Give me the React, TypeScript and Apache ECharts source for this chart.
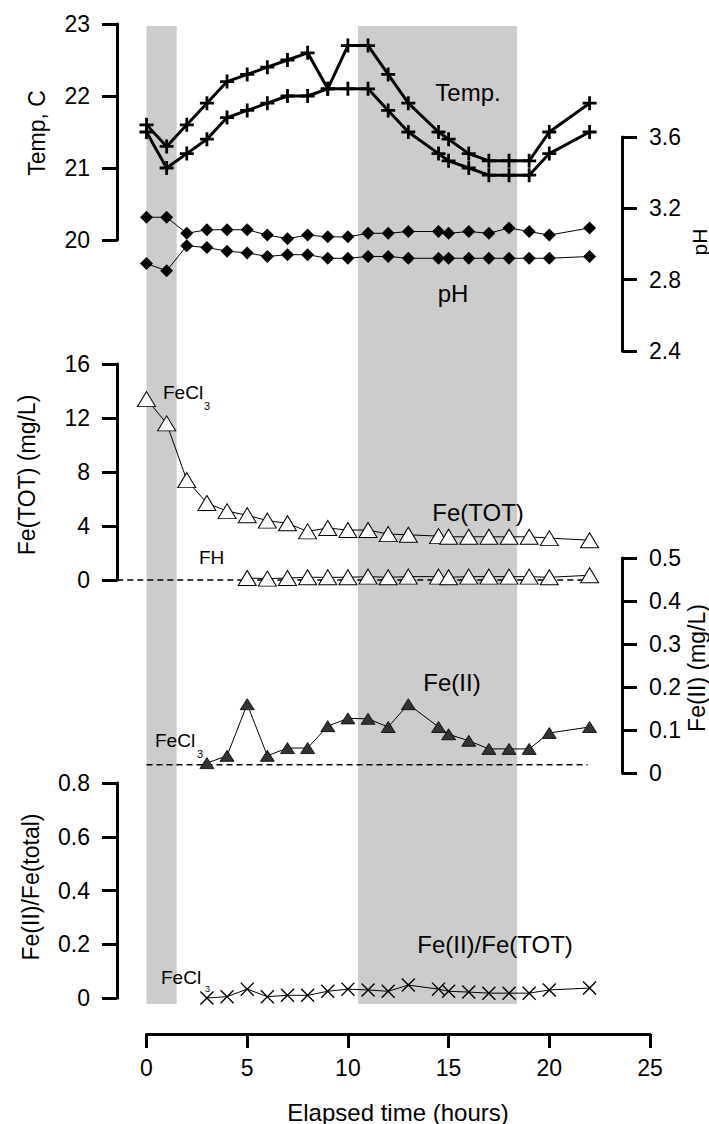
import React, { useEffect, useRef } from "react";
import * as echarts from "echarts";

// ---- data ----
const hoursAll = [0, 1, 2, 3, 4, 5, 6, 7, 8, 9, 10, 11, 12, 13, 14.5, 15, 16, 17, 18, 19, 20, 22];
const tempUpper = [21.6, 21.3, 21.6, 21.9, 22.2, 22.3, 22.4, 22.5, 22.6, 22.1, 22.7, 22.7, 22.3, 21.9, 21.5, 21.4, 21.2, 21.1, 21.1, 21.1, 21.5, 21.9];
const tempLower = [21.5, 21.0, 21.2, 21.4, 21.7, 21.8, 21.9, 22.0, 22.0, 22.1, 22.1, 22.1, 21.8, 21.5, 21.2, 21.1, 21.0, 20.9, 20.9, 20.9, 21.2, 21.5];
const phUpper = [3.15, 3.15, 3.06, 3.08, 3.08, 3.08, 3.05, 3.03, 3.05, 3.04, 3.04, 3.06, 3.06, 3.07, 3.07, 3.06, 3.07, 3.06, 3.09, 3.07, 3.05, 3.09];
const phLower = [2.89, 2.85, 2.99, 2.98, 2.96, 2.95, 2.93, 2.94, 2.94, 2.92, 2.92, 2.93, 2.93, 2.92, 2.92, 2.92, 2.92, 2.92, 2.92, 2.92, 2.92, 2.93];
const feTot = [13.4, 11.6, 7.4, 5.7, 5.1, 4.8, 4.4, 4.2, 3.6, 3.85, 3.7, 3.7, 3.4, 3.35, 3.25, 3.2, 3.2, 3.2, 3.2, 3.2, 3.1, 2.95];
const hoursFH = [5, 6, 7, 8, 9, 10, 11, 12, 13, 14.5, 15, 16, 17, 18, 19, 20, 22];
const feFH = [0.15, 0.1, 0.15, 0.2, 0.2, 0.2, 0.25, 0.2, 0.25, 0.25, 0.2, 0.25, 0.25, 0.25, 0.25, 0.2, 0.35];
const hoursFe2 = [3, 4, 5, 6, 7, 8, 9, 10, 11, 12, 13, 14.5, 15, 16, 17, 18, 19, 20, 22];
const feII = [0.023, 0.04, 0.16, 0.04, 0.058, 0.058, 0.109, 0.127, 0.126, 0.107, 0.16, 0.107, 0.09, 0.075, 0.056, 0.056, 0.056, 0.093, 0.107];
const ratio = [0.0, 0.005, 0.033, 0.005, 0.01, 0.01, 0.025, 0.033, 0.03, 0.025, 0.048, 0.033, 0.025, 0.022, 0.018, 0.018, 0.018, 0.03, 0.037];
const shadedPeriods = [[0, 1.5], [10.5, 18.4]];
const feTotBaseline = [[-1.45, 0], [21.9, 0]];
const feIIBaseline = [[0, 0.019], [21.9, 0.019]];
const xTicks = { min: 0, max: 25, interval: 5 };

const zip = (xs: number[], ys: number[]) => xs.map((x, i) => [x, ys[i]]);

const FONT = "'Liberation Sans', Arial, sans-serif";
const PLUS = "path://M4,0H6V4H10V6H6V10H4V6H0V4H4Z";
const CROSS = "path://M0,0.7L0.7,0L5,4.3L9.3,0L10,0.7L5.7,5L10,9.3L9.3,10L5,5.7L0.7,10L0,9.3L4.3,5Z";

// layout (pixels)
const W = 709;
const X0 = 146.5; // x of hour 0
const X25 = 650; // x of hour 25
const LEFT_AXIS = 117;
const RIGHT_AXIS = 622;
const PXH = (X25 - X0) / 25;
const LEFT_MIN_H = -(X0 - LEFT_AXIS) / PXH;
const RIGHT_MAX_H = (RIGHT_AXIS - X0) / PXH;

export default function App() {
  const ref = useRef<HTMLDivElement>(null);
  useEffect(() => {
    if (!ref.current) return;
    const chart = echarts.init(ref.current, undefined, { renderer: "svg" });

    const leftG = { left: LEFT_AXIS, right: W - X25 };
    const rightG = { left: X0, right: W - RIGHT_AXIS };
    const fullG = { left: X0, right: W - X25 };
    const grids = [
      { ...fullG, top: 26, height: 978 }, // 0 band
      { ...leftG, top: 24, height: 216 }, // 1 temp
      { ...rightG, top: 137, height: 214 }, // 2 pH
      { ...leftG, top: 364, height: 216 }, // 3 Fe tot
      { ...rightG, top: 558, height: 215 }, // 4 Fe II
      { ...leftG, top: 783, height: 215 }, // 5 ratio
      { ...fullG, top: 783, height: 251 }, // 6 time axis
    ];

    const xRange = [
      [0, 25],
      [LEFT_MIN_H, 25],
      [0, RIGHT_MAX_H],
      [LEFT_MIN_H, 25],
      [0, RIGHT_MAX_H],
      [LEFT_MIN_H, 25],
    ];
    const xAxes: any[] = xRange.map(([mn, mx], i) => ({ gridIndex: i, type: "value", min: mn, max: mx, show: false }));
    xAxes.push({
      gridIndex: 6,
      type: "value",
      min: xTicks.min,
      max: xTicks.max,
      interval: xTicks.interval,
      position: "bottom",
      axisLine: { show: true, onZero: false, lineStyle: { color: "#000", width: 3 } },
      axisTick: { show: true, length: 14, lineStyle: { color: "#000", width: 3 } },
      axisLabel: { margin: 22, fontSize: 23, color: "#000", fontFamily: FONT },
      splitLine: { show: false },
    });

    const lab = (margin: number, fmt?: (v: number) => string) => ({
      fontSize: 23, color: "#000", fontFamily: FONT, margin, ...(fmt ? { formatter: fmt } : {}),
    });
    const dec1 = (v: number) => (v === 0 ? "0" : v.toFixed(1));
    const axisCommon = (opts: any) => ({
      type: "value",
      axisLine: { show: true, onZero: false, lineStyle: { color: "#000", width: 3 } },
      axisTick: { show: true, length: 15, lineStyle: { color: "#000", width: 3 } },
      splitLine: { show: false },
      ...opts,
    });

    const yAxes = [
      { gridIndex: 0, type: "value", min: 0, max: 1, show: false },
      axisCommon({ gridIndex: 1, position: "left", min: 20, max: 23, interval: 1, axisLabel: lab(27) }),
      axisCommon({ gridIndex: 2, position: "right", min: 2.4, max: 3.6, interval: 0.4, axisLabel: lab(27, (v) => v.toFixed(1)) }),
      axisCommon({ gridIndex: 3, position: "left", min: 0, max: 16, interval: 4, axisLabel: lab(27) }),
      axisCommon({ gridIndex: 4, position: "right", min: 0, max: 0.5, interval: 0.1, axisLabel: lab(27, dec1) }),
      axisCommon({ gridIndex: 5, position: "left", min: 0, max: 0.8, interval: 0.2, axisLabel: lab(27, dec1) }),
      { gridIndex: 6, type: "value", min: 0, max: 1, show: false },
    ];

    const lineSeries = (idx: number, data: number[][], symbol: string, size: any, itemStyle: any, lw: number, z = 3) => ({
      type: "line",
      xAxisIndex: idx,
      yAxisIndex: idx,
      data,
      symbol,
      symbolSize: size,
      showAllSymbol: true,
      itemStyle,
      lineStyle: { color: "#000", width: lw },
      z,
      clip: false,
    });

    const dashed = (idx: number, data: number[][]) => ({
      type: "line",
      xAxisIndex: idx,
      yAxisIndex: idx,
      data,
      symbol: "none",
      lineStyle: { color: "#000", width: 1.5, type: [6, 4] },
      z: 2,
      clip: false,
    });

    const series: any[] = [
      {
        type: "line",
        xAxisIndex: 0,
        yAxisIndex: 0,
        data: [],
        z: 0,
        markArea: {
          silent: true,
          itemStyle: { color: "#cccccc" },
          data: shadedPeriods.map(([a, b]) => [{ xAxis: a }, { xAxis: b }]),
        },
      },
      lineSeries(1, zip(hoursAll, tempUpper), PLUS, 14, { color: "#000" }, 3),
      lineSeries(1, zip(hoursAll, tempLower), PLUS, 14, { color: "#000" }, 3),
      lineSeries(2, zip(hoursAll, phUpper), "diamond", 13, { color: "#000" }, 1),
      lineSeries(2, zip(hoursAll, phLower), "diamond", 13, { color: "#000" }, 1),
      dashed(3, feTotBaseline),
      lineSeries(3, zip(hoursAll, feTot), "triangle", [18, 15], { color: "#fff", borderColor: "#000", borderWidth: 1 }, 1),
      lineSeries(3, zip(hoursFH, feFH), "triangle", [18, 15], { color: "#fff", borderColor: "#000", borderWidth: 1 }, 1),
      dashed(4, feIIBaseline),
      lineSeries(4, zip(hoursFe2, feII), "triangle", [14, 11], { color: "#333", borderColor: "#000", borderWidth: 0.8 }, 1),
      lineSeries(5, zip(hoursFe2, ratio), CROSS, 14, { color: "#000" }, 1),
    ];

    const txt = (text: string, x: number, y: number, size = 23, align = "center", rot = 0) => ({
      type: "text",
      x,
      y,
      rotation: rot,
      z: 10,
      style: { text, fontSize: size, fontFamily: FONT, fill: "#000", align, verticalAlign: "middle" },
    });
    const R = Math.PI / 2;

    const graphic = [
      txt("Temp, C", 37, 133, 23, "center", R),
      txt("pH", 699, 242, 21, "center", R),
      txt("Fe(TOT) (mg/L)", 27, 475, 23, "center", R),
      txt("Fe(II) (mg/L)", 697, 668, 23, "center", R),
      txt("Fe(II)/Fe(total)", 31, 887, 23, "center", R),
      txt("Temp.", 468, 92, 24),
      txt("pH", 453, 293, 24),
      txt("FeCl", 163, 392, 19, "left"),
      txt("3", 204, 406, 11, "left"),
      txt("FH", 199, 557, 19, "left"),
      txt("Fe(TOT)", 478, 512, 24),
      txt("Fe(II)", 452, 682, 24),
      txt("FeCl", 155, 740, 19, "left"),
      txt("3", 197, 754, 11, "left"),
      txt("Fe(II)/Fe(TOT)", 495, 944, 24),
      txt("FeCl", 161, 977, 19, "left"),
      txt("3", 205, 989, 9, "left"),
      txt("Elapsed time (hours)", 398, 1112, 24),
    ];

    chart.setOption({
      animation: false,
      backgroundColor: "#fff",
      textStyle: { fontFamily: FONT },
      grid: grids,
      xAxis: xAxes,
      yAxis: yAxes,
      series,
      graphic,
    } as any);

    return () => chart.dispose();
  }, []);

  return <div ref={ref} style={{ position: "absolute", left: 0, top: 0, width: 709, height: 1124 }} />;
}
